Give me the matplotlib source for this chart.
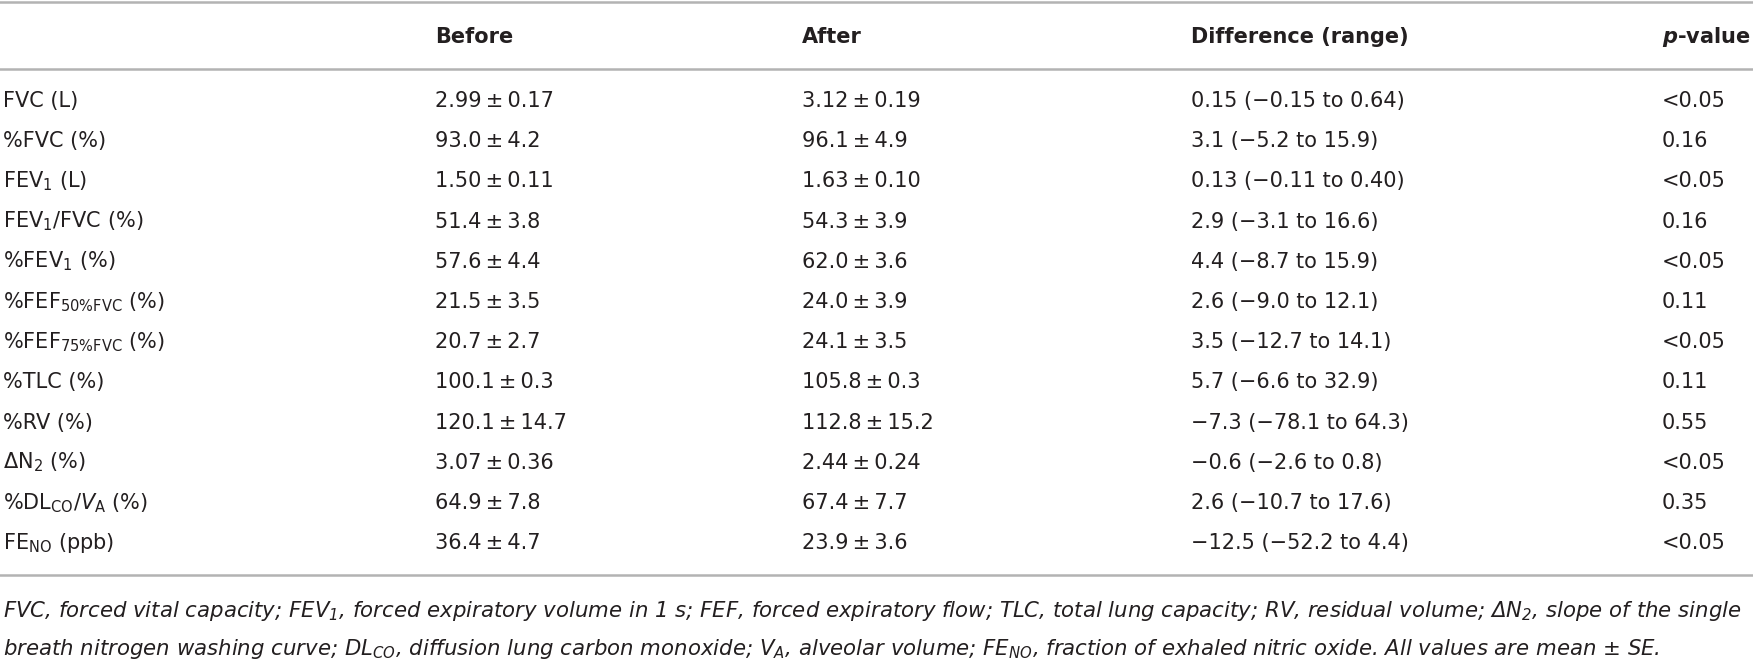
import matplotlib
matplotlib.use("Agg")
import matplotlib.pyplot as plt
from matplotlib.lines import Line2D

plt.rcParams['font.family'] = ['DejaVu Sans']
plt.rcParams['mathtext.fontset'] = 'custom'
plt.rcParams['mathtext.rm'] = 'DejaVu Sans'
plt.rcParams['mathtext.it'] = 'DejaVu Sans:italic'
plt.rcParams['mathtext.bf'] = 'DejaVu Sans:bold'
plt.rcParams['mathtext.bfit'] = 'DejaVu Sans:italic:bold'

# table data
labels = ["FVC (L)", "%FVC (%)", r"FEV$_\mathregular{1}$ (L)",
          r"FEV$_\mathregular{1}$/FVC (%)", r"%FEV$_\mathregular{1}$ (%)",
          r"%FEF$_\mathregular{50\%FVC}$ (%)", r"%FEF$_\mathregular{75\%FVC}$ (%)",
          "%TLC (%)", "%RV (%)", r"ΔN$_\mathregular{2}$ (%)",
          r"%DL$_\mathregular{CO}$/$V_\mathregular{A}$ (%)", r"FE$_\mathregular{NO}$ (ppb)"]
before_mean = [2.99, 93.0, 1.50, 51.4, 57.6, 21.5, 20.7, 100.1, 120.1, 3.07, 64.9, 36.4]
before_se = [0.17, 4.2, 0.11, 3.8, 4.4, 3.5, 2.7, 0.3, 14.7, 0.36, 7.8, 4.7]
after_mean = [3.12, 96.1, 1.63, 54.3, 62.0, 24.0, 24.1, 105.8, 112.8, 2.44, 67.4, 23.9]
after_se = [0.19, 4.9, 0.10, 3.9, 3.6, 3.9, 3.5, 0.3, 15.2, 0.24, 7.7, 3.6]
decimals = [2, 1, 2, 1, 1, 1, 1, 1, 1, 2, 1, 1]
diff = [0.15, 3.1, 0.13, 2.9, 4.4, 2.6, 3.5, 5.7, -7.3, -0.6, 2.6, -12.5]
diff_lo = [-0.15, -5.2, -0.11, -3.1, -8.7, -9.0, -12.7, -6.6, -78.1, -2.6, -10.7, -52.2]
diff_hi = [0.64, 15.9, 0.40, 16.6, 15.9, 12.1, 14.1, 32.9, 64.3, 0.8, 17.6, 4.4]
diff_dec = [2, 1, 2, 1, 1, 1, 1, 1, 1, 1, 1, 1]
pvals = ["<0.05", "0.16", "<0.05", "0.16", "<0.05", "0.11", "<0.05", "0.11",
         "0.55", "<0.05", "0.35", "<0.05"]
headers = ["Before", "After", "Difference (range)", r"$\mathbfit{p}$-value"]
footnote = [
    r"FVC, forced vital capacity; FEV$_\mathregular{1}$, forced expiratory volume in 1 s; "
    r"FEF, forced expiratory flow; TLC, total lung capacity; RV, residual volume; "
    r"ΔN$_\mathregular{2}$, slope of the single",
    r"breath nitrogen washing curve; DL$_\mathregular{CO}$, diffusion lung carbon monoxide; "
    r"V$_\mathregular{A}$, alveolar volume; FE$_\mathregular{NO}$, fraction of exhaled nitric oxide. "
    r"All values are mean ± SE.",
]


def fmt(v, d):
    s = f"{abs(v):.{d}f}"
    return ("\u2212" + s) if v < 0 else s


W, H = 1753, 660
fig = plt.figure(figsize=(W / 100, H / 100), dpi=100)
txt_color = "#231f20"
rule_color = "#b3b3b3"
fs = 15


def px(x, y):
    return x / W, 1 - y / H


def hline(y):
    fig.add_artist(Line2D([0, 1], [1 - y / H, 1 - y / H], color=rule_color, lw=1.8,
                          transform=fig.transFigure))


col_x = [3, 435, 802, 1191, 1662]

hline(2)
hline(69)
hline(575)

for x, h in zip(col_x[1:], headers):
    fig.text(*px(x, 43), h, fontsize=fs, fontweight="bold", color=txt_color, va="baseline")

row0, step = 107, 40.2
for i in range(len(labels)):
    y = row0 + i * step
    d = decimals[i]
    fig.text(*px(col_x[0], y), labels[i], fontsize=fs, color=txt_color, va="baseline")
    fig.text(*px(col_x[1], y), f"{fmt(before_mean[i], d)}\u2009±\u2009{fmt(before_se[i], d)}",
             fontsize=fs, color=txt_color, va="baseline")
    fig.text(*px(col_x[2], y), f"{fmt(after_mean[i], d)}\u2009±\u2009{fmt(after_se[i], d)}",
             fontsize=fs, color=txt_color, va="baseline")
    dd = diff_dec[i]
    fig.text(*px(col_x[3], y),
             f"{fmt(diff[i], dd)} ({fmt(diff_lo[i], dd)} to {fmt(diff_hi[i], dd)})",
             fontsize=fs, color=txt_color, va="baseline")
    fig.text(*px(col_x[4], y), pvals[i], fontsize=fs, color=txt_color, va="baseline")

for j, line in enumerate(footnote):
    fig.text(*px(3, 617 + j * 38), line, fontsize=15.3, style="italic",
             color=txt_color, va="baseline")

fig.savefig("out.png", dpi=100, facecolor="white")
